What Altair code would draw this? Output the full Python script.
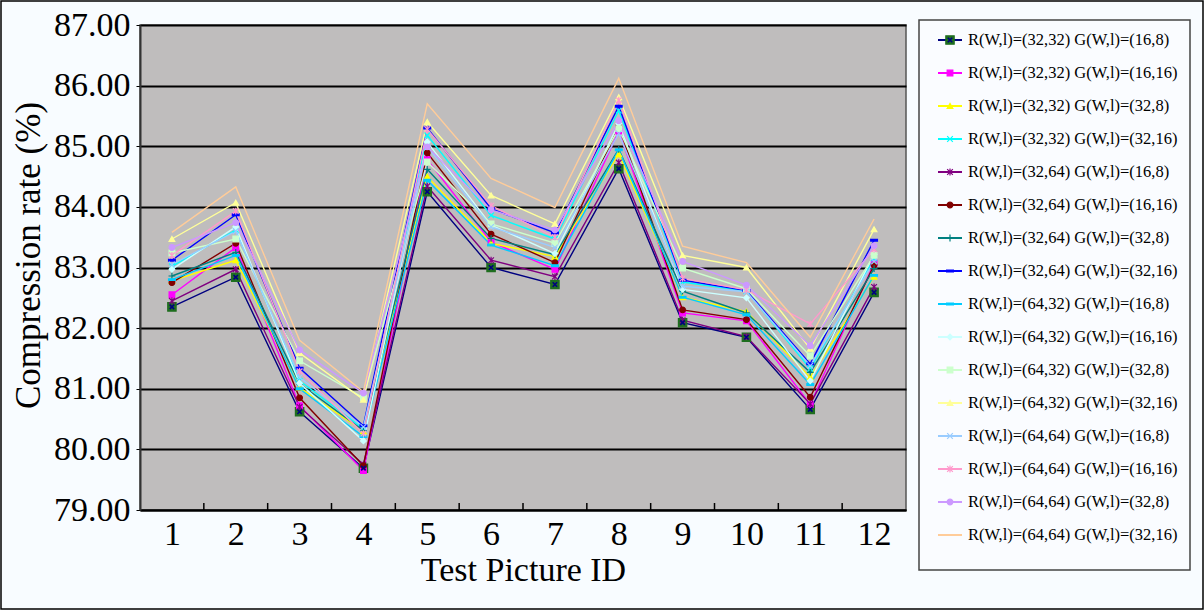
import altair as alt
import pandas as pd

# ---------------- data ----------------
picture_ids = [1, 2, 3, 4, 5, 6, 7, 8, 9, 10, 11, 12]

series_names = [
    "R(W,l)=(32,32) G(W,l)=(16,8)",
    "R(W,l)=(32,32) G(W,l)=(16,16)",
    "R(W,l)=(32,32) G(W,l)=(32,8)",
    "R(W,l)=(32,32) G(W,l)=(32,16)",
    "R(W,l)=(32,64) G(W,l)=(16,8)",
    "R(W,l)=(32,64) G(W,l)=(16,16)",
    "R(W,l)=(32,64) G(W,l)=(32,8)",
    "R(W,l)=(32,64) G(W,l)=(32,16)",
    "R(W,l)=(64,32) G(W,l)=(16,8)",
    "R(W,l)=(64,32) G(W,l)=(16,16)",
    "R(W,l)=(64,32) G(W,l)=(32,8)",
    "R(W,l)=(64,32) G(W,l)=(32,16)",
    "R(W,l)=(64,64) G(W,l)=(16,8)",
    "R(W,l)=(64,64) G(W,l)=(16,16)",
    "R(W,l)=(64,64) G(W,l)=(32,8)",
    "R(W,l)=(64,64) G(W,l)=(32,16)",
]

r32_32_g16_8 = [82.35, 82.84, 80.62, 79.69, 84.25, 83.00, 82.72, 84.63, 82.09, 81.85, 80.66, 82.59]
r32_32_g16_16 = [82.55, 83.33, 80.72, 79.65, 84.78, 83.42, 82.97, 85.25, 82.25, 82.12, 80.74, 83.07]
r32_32_g32_8 = [82.78, 83.12, 81.02, 80.30, 84.50, 83.40, 83.18, 84.87, 82.51, 82.27, 81.19, 82.85]
r32_32_g32_16 = [83.02, 83.62, 81.13, 80.34, 85.18, 83.86, 83.47, 85.59, 82.76, 82.61, 81.33, 83.15]
r32_64_g16_8 = [82.45, 82.97, 80.70, 79.75, 84.34, 83.12, 82.85, 84.73, 82.13, 81.86, 80.75, 82.68]
r32_64_g16_16 = [82.75, 83.40, 80.85, 79.73, 84.89, 83.55, 83.08, 85.33, 82.30, 82.14, 80.86, 83.04]
r32_64_g32_8 = [82.86, 83.25, 81.08, 80.31, 84.62, 83.48, 83.21, 84.95, 82.61, 82.25, 81.27, 82.98]
r32_64_g32_16 = [83.12, 83.87, 81.34, 80.39, 85.30, 83.97, 83.57, 85.66, 82.79, 82.62, 81.41, 83.45]
r64_32_g16_8 = [82.80, 83.20, 81.00, 80.21, 84.44, 83.37, 83.03, 84.94, 82.51, 82.22, 81.07, 82.87]
r64_32_g16_16 = [82.97, 83.67, 81.09, 80.14, 85.07, 83.70, 83.23, 85.37, 82.64, 82.50, 81.13, 83.22]
r64_32_g32_8 = [83.24, 83.47, 81.46, 80.85, 84.74, 83.72, 83.40, 85.29, 82.99, 82.65, 81.54, 83.20]
r64_32_g32_16 = [83.47, 84.07, 81.59, 80.82, 85.40, 84.19, 83.72, 85.81, 83.20, 83.00, 81.66, 83.63]
r64_64_g16_8 = [83.05, 83.60, 81.19, 80.37, 84.99, 83.67, 83.33, 85.21, 82.69, 82.60, 81.38, 83.10]
r64_64_g16_16 = [83.20, 83.93, 81.29, 80.26, 85.28, 84.02, 83.50, 85.76, 82.82, 82.63, 82.07, 83.30]
r64_64_g32_8 = [83.33, 83.74, 81.64, 80.93, 84.99, 83.95, 83.62, 85.42, 83.10, 82.71, 81.71, 83.36]
r64_64_g32_16 = [83.58, 84.33, 81.80, 80.95, 85.70, 84.47, 83.99, 86.12, 83.35, 83.08, 81.85, 83.80]

all_series = [
    r32_32_g16_8, r32_32_g16_16, r32_32_g32_8, r32_32_g32_16,
    r32_64_g16_8, r32_64_g16_16, r32_64_g32_8, r32_64_g32_16,
    r64_32_g16_8, r64_32_g16_16, r64_32_g32_8, r64_32_g32_16,
    r64_64_g16_8, r64_64_g16_16, r64_64_g32_8, r64_64_g32_16,
]

y_ticks = [79, 80, 81, 82, 83, 84, 85, 86, 87]

# ---------------- styles ----------------
line_colors = ["#000080", "#FF00FF", "#FFFF00", "#00FFFF", "#800080", "#800000",
               "#008080", "#0000FF", "#00CCFF", "#CCFFFF", "#CCFFCC", "#FFFF99",
               "#99CCFF", "#FF99CC", "#CC99FF", "#FFCC99"]
X_PATH = "M-1,-1L1,1M-1,1L1,-1"
STAR_PATH = "M-1,-1L1,1M-1,1L1,-1M0,-1.2L0,1.2"
PLUS_PATH = "M-1.2,0L1.2,0M0,-1.2L0,1.2"
DASH_PATH = "M-1.2,-0.3L1.2,-0.3L1.2,0.3L-1.2,0.3Z"
marker_shapes = ["square", "square", "triangle-up", X_PATH, STAR_PATH, "circle",
                 PLUS_PATH, DASH_PATH, DASH_PATH, "diamond", "square", "triangle-up",
                 X_PATH, STAR_PATH, "circle", "none"]
marker_sizes = [70, 32, 32, 32, 32, 32, 32, 32, 32, 32, 32, 32, 32, 32, 32, 0]
marker_fills = ["#1F6E1F"] + line_colors[1:]
marker_strokes = ["#1F6E1F"] + line_colors[1:]

FONT = "Liberation Serif"

rows = []
for i, (name, vals) in enumerate(zip(series_names, all_series)):
    for p, v in zip(picture_ids, vals):
        rows.append({"series": name, "idx": i, "pid": p, "value": v,
                     "lc": line_colors[i], "shp": marker_shapes[i], "sz": marker_sizes[i],
                     "mf": marker_fills[i], "ms": marker_strokes[i]})
df = pd.DataFrame(rows)

leg = pd.DataFrame({"series": series_names, "idx": list(range(len(series_names))),
                    "lc": line_colors, "shp": marker_shapes, "sz": marker_sizes,
                    "mf": marker_fills, "ms": marker_strokes})

bounds = pd.DataFrame({"b": [p + 0.5 for p in picture_ids[:-1]]})
one = pd.DataFrame({"k": [0]})

W, H = 766, 485

xs = alt.Scale(domain=[0.5, 12.5], nice=False, zero=False)
ys = alt.Scale(domain=[79, 87], nice=False, zero=False)

x_enc = alt.X("pid:Q", scale=xs, axis=alt.Axis(
    values=picture_ids, format="d", tickSize=0, labelPadding=7,
    labelFont=FONT, labelFontSize=34, labelColor="black", grid=False,
    domainColor="black", domainWidth=2,
    title="Test Picture ID", titleFont=FONT, titleFontSize=34,
    titleFontWeight="normal", titleColor="black", titlePadding=2))
y_enc = alt.Y("value:Q", scale=ys, axis=alt.Axis(
    values=y_ticks, format=".2f", tickSize=4, tickColor="black", labelPadding=6,
    labelFont=FONT, labelFontSize=34, labelColor="black",
    grid=True, gridColor="black", gridWidth=2,
    domainColor="#333333", domainWidth=2,
    title="Compression rate (%)", titleFont=FONT, titleFontSize=35,
    titleFontWeight="normal", titleColor="black",
    titleX=-112, titleY=230, titleAngle=270, titleAlign="center",
    titleBaseline="middle"))

outer = alt.Chart(one).mark_rect(fill="transparent", stroke="black", strokeWidth=1.5).encode(
    x=alt.value(-139), x2=alt.value(1063), y=alt.value(-24), y2=alt.value(584))
legbox = alt.Chart(one).mark_rect(fill="#FAFCFF", stroke="#444444", strokeWidth=1.5).encode(
    x=alt.value(779), x2=alt.value(1050), y=alt.value(-5), y2=alt.value(545))

lines = alt.Chart(df).mark_line(strokeWidth=1.4).encode(
    x=x_enc, y=y_enc,
    color=alt.Color("lc:N", scale=None),
    detail="series:N", order="pid:Q")

points = alt.Chart(df).transform_filter("datum.shp != 'none'").mark_point(
    filled=True, strokeWidth=1.2, opacity=1).encode(
    x="pid:Q", y="value:Q",
    size=alt.Size("sz:Q", scale=None),
    shape=alt.Shape("shp:N", scale=None),
    fill=alt.Fill("mf:N", scale=None),
    stroke=alt.Stroke("ms:N", scale=None))

s1_overlay = alt.Chart(df).transform_filter("datum.idx == 0").mark_point(
    shape=X_PATH, size=20, stroke="#000080", strokeWidth=1.6, opacity=1).encode(
    x="pid:Q", y="value:Q")

tick_rules = alt.Chart(bounds).mark_rule(color="black", strokeWidth=1.5).encode(
    x=alt.X("b:Q", scale=xs), y=alt.value(H - 7), y2=alt.value(H))

lys = alt.Scale(domain=[0, 15], range=[15, 510], nice=False, zero=False)

leg_lines = alt.Chart(leg).mark_rule(strokeWidth=2).encode(
    x=alt.value(798), x2=alt.value(822),
    y=alt.Y("idx:Q", scale=lys, axis=None),
    color=alt.Color("lc:N", scale=None))
leg_pts = alt.Chart(leg).transform_filter("datum.shp != 'none'").mark_point(
    filled=True, strokeWidth=1.2, opacity=1).encode(
    x=alt.value(810),
    y=alt.Y("idx:Q", scale=lys, axis=None),
    size=alt.Size("sz:Q", scale=None),
    shape=alt.Shape("shp:N", scale=None),
    fill=alt.Fill("mf:N", scale=None),
    stroke=alt.Stroke("ms:N", scale=None))
leg_s1 = alt.Chart(leg).transform_filter("datum.idx == 0").mark_point(
    shape=X_PATH, size=20, stroke="#000080", strokeWidth=1.6, opacity=1).encode(
    x=alt.value(810), y=alt.Y("idx:Q", scale=lys, axis=None))
leg_text = alt.Chart(leg).mark_text(
    align="left", baseline="middle", font=FONT, fontSize=16.5, color="black").encode(
    x=alt.value(828),
    y=alt.Y("idx:Q", scale=lys, axis=None),
    text="series:N")

legend_layer = alt.layer(leg_lines, leg_pts, leg_s1, leg_text)
main_layer = alt.layer(lines, tick_rules, points, s1_overlay)

chart = alt.layer(main_layer, outer, legbox, legend_layer).resolve_scale(
    y="independent"
).properties(
    width=W, height=H,
    autosize=alt.AutoSizeParams(type="none"),
    padding={"left": 140, "top": 25, "right": 1204 - 140 - W, "bottom": 610 - 25 - H},
    background="#F8FCFF",
).configure_view(fill="#BFBDBD", stroke="#555555", strokeWidth=1.5)

chart.save("out.html", embed_options={"renderer": "svg", "actions": False})
